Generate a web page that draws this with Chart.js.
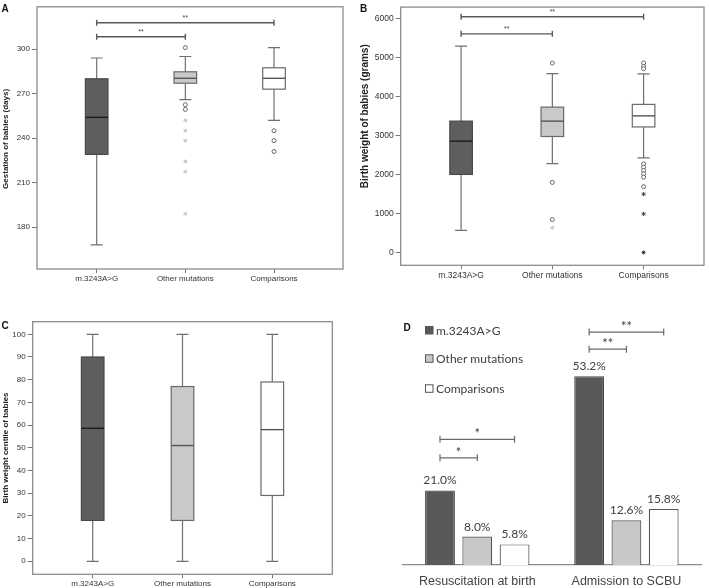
<!DOCTYPE html>
<html>
<head>
<meta charset="utf-8">
<script src="https://cdn.jsdelivr.net/npm/chart.js@4.4.0/dist/chart.umd.min.js"></script>
<style>
  body { margin: 0; background: #fff; width: 709px; height: 588px; position: relative; overflow: hidden; font-family: 'Liberation Sans', Arial, sans-serif; }
  canvas { position: absolute; }
  .letter { position: absolute; font-weight: bold; font-size: 10px; line-height: 10px; color: #111; }
</style>
</head>
<body>
<canvas id="chartA" width="350" height="285" style="left:0;top:0"></canvas>
<canvas id="chartB" width="359" height="285" style="left:350px;top:0"></canvas>
<canvas id="chartC" width="350" height="303" style="left:0;top:285px"></canvas>
<canvas id="chartD" width="359" height="303" style="left:350px;top:285px"></canvas>
<div class="letter" style="left:1.5px;top:3.5px">A</div>
<div class="letter" style="left:360px;top:3.5px">B</div>
<div class="letter" style="left:1.5px;top:320.5px">C</div>
<div class="letter" style="left:403.5px;top:323px">D</div>
<script>
// Gruplar
const groups = ['m.3243A>G', 'Other mutations', 'Comparisons'];

// Kutu grafikleri: [alt bıyık, Q1, medyan, Q3, üst bıyık]
const gestationBoxes = [[168, 229, 254, 280, 294], [266, 277, 280.3, 284.7, 295], [252, 273, 280.3, 287.4, 301]];
const gestationOutliers = [[], [301, 262.5, 259.3], [245, 238.3, 231]];
const gestationExtremes = [[], [252, 245, 238.3, 224.3, 217.3, 189], []];
const gestationTicks = [180, 210, 240, 270, 300];
const gestationSig = [[1, 2, 308.3, '**'], [1, 3, 317.8, '**']];

const weightBoxes = [[565, 2005, 2860, 3375, 5300], [2285, 2980, 3375, 3735, 4595], [2430, 3225, 3510, 3805, 4590]];
const weightOutliers = [[], [4865, 1800, 845], [4870, 4780, 4720, 2275, 2190, 2105, 2020, 1935, 1690]];
const weightExtremes = [[], [635], [1500, 990, 0]];
const weightTicks = [0, 1000, 2000, 3000, 4000, 5000, 6000];
const weightSig = [[1, 2, 5618, '**'], [1, 3, 6058, '**']];

const centileBoxes = [[0, 18, 58.6, 90, 100], [0, 18, 51, 77, 100], [0, 29, 58, 79, 100]];
const centileTicks = [0, 10, 20, 30, 40, 50, 60, 70, 80, 90, 100];

// Çubuk grafik (D)
const outcomeLabels = ['Resuscitation at birth', 'Admission to SCBU'];
const mutationRates = [21.0, 53.2];
const otherRates = [8.0, 12.6];
const comparisonRates = [5.8, 15.8];
// [kategori, başlangıç seri, bitiş seri, yükseklik (%), işaret]
const outcomeSig = [[0, 0, 1, 30.2, '*'], [0, 0, 2, 35.4, '*'], [1, 0, 1, 60.8, '**'], [1, 0, 2, 65.6, '**']];

Chart.defaults.font.family = "'Liberation Sans', Arial, sans-serif";
Chart.defaults.animation = false;

const boxFills = ['#5e5e5e', '#c9c9c9', '#ffffff'];
const boxEdges = ['#4a4a4a', '#6a6a6a', '#6a6a6a'];
const medianColors = ['#1c1c1c', '#555555', '#555555'];

function toPoints(lists) {
    const pts = [];
    lists.forEach(function(list, i) {
        list.forEach(function(v) { pts.push({ x: i + 1, y: v }); });
    });
    return pts;
}

// Kutu, bıyık, çerçeve, eksen başlığı ve anlamlılık çizgileri
function boxPlugin(cfg) {
    return {
        id: 'boxes',
        beforeDatasetsDraw(chart) {
            const { ctx, chartArea: a, scales: { x, y } } = chart;
            ctx.save();
            cfg.boxes.forEach(function(b, i) {
                const cx = x.getPixelForValue(i + 1);
                const lo = y.getPixelForValue(b[0]);
                const q1 = y.getPixelForValue(b[1]);
                const med = y.getPixelForValue(b[2]);
                const q3 = y.getPixelForValue(b[3]);
                const hi = y.getPixelForValue(b[4]);
                ctx.strokeStyle = '#707070';
                ctx.lineWidth = 1.2;
                ctx.beginPath();
                ctx.moveTo(cx, hi); ctx.lineTo(cx, q3);
                ctx.moveTo(cx, q1); ctx.lineTo(cx, lo);
                ctx.moveTo(cx - 6, hi); ctx.lineTo(cx + 6, hi);
                ctx.moveTo(cx - 6, lo); ctx.lineTo(cx + 6, lo);
                ctx.stroke();
                ctx.fillStyle = boxFills[i];
                ctx.fillRect(cx - 11.3, q3, 22.6, q1 - q3);
                ctx.strokeStyle = boxEdges[i];
                ctx.strokeRect(cx - 11.3, q3, 22.6, q1 - q3);
                ctx.strokeStyle = medianColors[i];
                ctx.lineWidth = 1.4;
                ctx.beginPath();
                ctx.moveTo(cx - 11.3, med); ctx.lineTo(cx + 11.3, med);
                ctx.stroke();
            });
            ctx.strokeStyle = '#8c8c8c';
            ctx.lineWidth = 1.3;
            ctx.strokeRect(a.left, a.top, a.width, a.height);
            // y ekseni başlığı
            ctx.translate(cfg.titleX, (a.top + a.bottom) / 2 + cfg.titleShift);
            ctx.rotate(-Math.PI / 2);
            ctx.font = 'bold ' + cfg.titleSize + 'px "Liberation Sans", Arial, sans-serif';
            ctx.fillStyle = '#222';
            ctx.textAlign = 'center';
            ctx.textBaseline = 'middle';
            ctx.fillText(cfg.title, 0, 0);
            ctx.restore();
        },
        afterDatasetsDraw(chart) {
            if (!cfg.sig) return;
            const { ctx, scales: { x, y } } = chart;
            ctx.save();
            ctx.strokeStyle = '#5a5a5a';
            ctx.fillStyle = '#444';
            ctx.lineWidth = 1.4;
            ctx.font = '7px "Liberation Sans", Arial, sans-serif';
            ctx.textAlign = 'center';
            cfg.sig.forEach(function(s) {
                const x1 = x.getPixelForValue(s[0]);
                const x2 = x.getPixelForValue(s[1]);
                const yy = y.getPixelForValue(s[2]);
                ctx.beginPath();
                ctx.moveTo(x1, yy); ctx.lineTo(x2, yy);
                ctx.moveTo(x1, yy - 3); ctx.lineTo(x1, yy + 3);
                ctx.moveTo(x2, yy - 3); ctx.lineTo(x2, yy + 3);
                ctx.stroke();
                ctx.fillText(s[3], (x1 + x2) / 2, yy - 3);
            });
            ctx.restore();
        }
    };
}

function makeBoxChart(id, cfg) {
    const datasets = [{
        data: toPoints(cfg.outliers || []),
        pointStyle: 'circle',
        pointRadius: 2,
        borderWidth: 1,
        borderColor: '#666',
        backgroundColor: '#fff'
    }, {
        data: toPoints(cfg.extremes || []),
        pointStyle: 'star',
        pointRadius: 2,
        borderWidth: 1,
        borderColor: function(c) { return c.raw && c.raw.x === 2 ? '#c6c6c6' : '#444'; }
    }];
    return new Chart(document.getElementById(id), {
        type: 'scatter',
        data: { datasets: datasets },
        options: {
            responsive: false,
            layout: { padding: cfg.padding },
            scales: {
                x: {
                    type: 'linear',
                    min: cfg.xMin,
                    max: cfg.xMax,
                    afterBuildTicks: function(s) { s.ticks = groups.map(function(g, i) { return { value: i + 1 }; }); },
                    afterFit: function(s) { s.height = cfg.xHeight; },
                    ticks: {
                        callback: function(v) { return groups[v - 1]; },
                        font: { size: cfg.tickSize },
                        color: '#333',
                        padding: 1,
                        autoSkip: false,
                        maxRotation: 0
                    },
                    grid: { drawOnChartArea: false, drawTicks: true, tickLength: 4, color: '#777' },
                    border: { display: false }
                },
                y: {
                    min: cfg.yMin,
                    max: cfg.yMax,
                    afterBuildTicks: function(s) { s.ticks = cfg.ticks.map(function(v) { return { value: v }; }); },
                    afterFit: function(s) { s.width = cfg.yWidth; },
                    ticks: { font: { size: cfg.tickSize }, color: '#333', padding: 2, callback: function(v) { return String(v); } },
                    grid: { drawOnChartArea: false, drawTicks: true, tickLength: 5, color: '#777' },
                    border: { display: false }
                }
            },
            plugins: { legend: { display: false }, tooltip: { enabled: false } }
        },
        plugins: [boxPlugin(cfg)]
    });
}

makeBoxChart('chartA', {
    boxes: gestationBoxes, outliers: gestationOutliers, extremes: gestationExtremes,
    ticks: gestationTicks, sig: gestationSig, title: 'Gestation of babies (days)',
    xMin: 0.327, xMax: 3.778, yMin: 151.8, yMax: 328.5,
    padding: { left: 0, right: 7, top: 4, bottom: 0 },
    yWidth: 37, xHeight: 16, tickSize: 8, titleSize: 8, titleX: 6.2, titleShift: 1
});

makeBoxChart('chartB', {
    boxes: weightBoxes, outliers: weightOutliers, extremes: weightExtremes,
    ticks: weightTicks, sig: weightSig, title: 'Birth weight of babies (grams)',
    xMin: 0.338, xMax: 3.662, yMin: -330, yMax: 6305,
    padding: { left: 0, right: 2, top: 4, bottom: 0 },
    yWidth: 50.7, xHeight: 19.7, tickSize: 8.5, titleSize: 10, titleX: 15.5, titleShift: -20
});

makeBoxChart('chartC', {
    boxes: centileBoxes, ticks: centileTicks, title: 'Birth weight centile of babies',
    xMin: 0.332, xMax: 3.668, yMin: -5.73, yMax: 105.55,
    padding: { left: 0, right: 17.7, top: 36.7, bottom: 0 },
    yWidth: 32.7, xHeight: 13.7, tickSize: 8, titleSize: 8, titleX: 5.5, titleShift: 0
});

// D paneli: değer etiketleri, anlamlılık çizgileri ve açıklama
const outcomePlugin = {
    id: 'outcomeMarks',
    afterDatasetsDraw(chart) {
        const { ctx, scales: { y } } = chart;
        ctx.save();
        ctx.font = '12px Lato, "Open Sans", sans-serif';
        ctx.fillStyle = '#404040';
        ctx.textAlign = 'center';
        chart.data.datasets.forEach(function(ds, di) {
            chart.getDatasetMeta(di).data.forEach(function(bar, i) {
                ctx.fillText(ds.data[i].toFixed(1) + '%', bar.x, bar.y - 6);
            });
        });
        ctx.strokeStyle = '#6a6a6a';
        ctx.lineWidth = 1.2;
        ctx.font = '13px Lato, "Open Sans", sans-serif';
        outcomeSig.forEach(function(s) {
            const x1 = chart.getDatasetMeta(s[1]).data[s[0]].x;
            const x2 = chart.getDatasetMeta(s[2]).data[s[0]].x;
            const yy = y.getPixelForValue(s[3]);
            ctx.beginPath();
            ctx.moveTo(x1, yy); ctx.lineTo(x2, yy);
            ctx.moveTo(x1, yy - 3.5); ctx.lineTo(x1, yy + 3.5);
            ctx.moveTo(x2, yy - 3.5); ctx.lineTo(x2, yy + 3.5);
            ctx.stroke();
            ctx.fillText(s[4], (x1 + x2) / 2, yy - 1);
        });
        // açıklama
        ctx.textAlign = 'left';
        ctx.textBaseline = 'middle';
        ctx.font = '12px Lato, "Open Sans", sans-serif';
        const rows = [45, 73.3, 103.3];
        chart.data.datasets.forEach(function(ds, di) {
            ctx.fillStyle = ds.backgroundColor;
            ctx.fillRect(75.5, rows[di] - 3.5, 7.5, 7.5);
            ctx.strokeStyle = '#555';
            ctx.lineWidth = 1;
            ctx.strokeRect(75.5, rows[di] - 3.5, 7.5, 7.5);
            ctx.fillStyle = '#404040';
            ctx.fillText(ds.label, 86, rows[di] + 1);
        });
        ctx.restore();
    }
};

new Chart(document.getElementById('chartD'), {
    type: 'bar',
    data: {
        labels: outcomeLabels,
        datasets: [
            { label: 'm.3243A>G', data: mutationRates, backgroundColor: '#595959', borderColor: '#4a4a4a', borderWidth: 1.2 },
            { label: 'Other mutations', data: otherRates, backgroundColor: '#c8c8c8', borderColor: '#555', borderWidth: 1.2 },
            { label: 'Comparisons', data: comparisonRates, backgroundColor: '#ffffff', borderColor: '#555', borderWidth: 1.2 }
        ]
    },
    options: {
        responsive: false,
        layout: { padding: { left: 52.7, right: 8, top: 10.2, bottom: 0 } },
        datasets: { bar: { categoryPercentage: 0.75, barPercentage: 0.8 } },
        scales: {
            x: {
                grid: { display: false },
                border: { display: true, color: '#8a8a8a', width: 1.2 },
                ticks: { font: { size: 12.5 }, color: '#444', padding: 1 },
                afterFit: function(s) { s.height = 23; }
            },
            y: { display: false, min: 0, max: 76 }
        },
        plugins: { legend: { display: false }, tooltip: { enabled: false } }
    },
    plugins: [outcomePlugin]
});
</script>
</body>
</html>
